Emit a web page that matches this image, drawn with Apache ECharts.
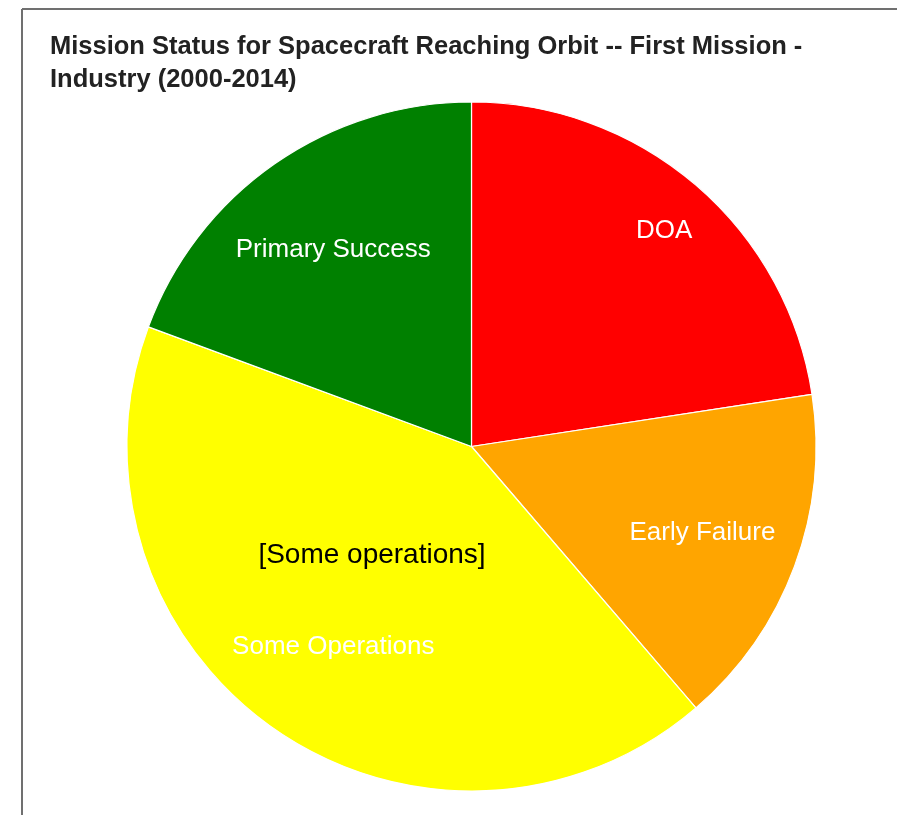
<!DOCTYPE html>
<html>
<head>
<meta charset="utf-8">
<script src="https://cdn.jsdelivr.net/npm/echarts@6/dist/echarts.min.js"></script>
<style>
html,body{margin:0;padding:0;background:#fff;}
#chart{width:897px;height:815px;}
</style>
</head>
<body>
<div id="chart"></div>
<script>
const titleLines = ['Mission Status for Spacecraft Reaching Orbit -- First Mission -', 'Industry (2000-2014)'];
const categories = ['DOA', 'Early Failure', 'Some Operations', 'Primary Success'];
const counts = [7, 5, 13, 6];
const sliceColors = ['#ff0000', '#ffa500', '#ffff00', '#008000'];
const annotationText = '[Some operations]';

const FONT = '"Liberation Sans", Arial, sans-serif';
const data = categories.map((c, i) => ({ name: c, value: counts[i], itemStyle: { color: sliceColors[i] } }));
const labelData = categories.map((c, i) => ({ name: c, value: counts[i] }));
const labelShift = [[35, -32], [4, 2], [0, 2], [0, 2]];

const chart = echarts.init(document.getElementById('chart'));
chart.setOption({
  animation: false,
  backgroundColor: '#fff',
  title: {
    text: titleLines.join('\n'),
    left: 45,
    top: 25,
    textStyle: { fontFamily: FONT, fontWeight: 'bold', fontSize: 25.5, lineHeight: 33, color: '#222' }
  },
  graphic: [
    { type: 'line', shape: { x1: 22, y1: 9, x2: 897, y2: 9 }, style: { stroke: '#707070', lineWidth: 2 }, silent: true },
    { type: 'line', shape: { x1: 22, y1: 9, x2: 22, y2: 815 }, style: { stroke: '#707070', lineWidth: 2 }, silent: true },
    { type: 'text', x: 372, y: 555, z: 100, silent: true,
      style: { text: annotationText, fill: '#000', font: '28px ' + FONT, textAlign: 'center', textVerticalAlign: 'middle' } }
  ],
  series: [
    {
      type: 'pie',
      center: [471.5, 446.5],
      radius: [0, 344.5],
      startAngle: 90,
      clockwise: true,
      silent: true,
      label: { show: false },
      labelLine: { show: false },
      itemStyle: { borderColor: '#fff', borderWidth: 1.2 },
      emphasis: { disabled: true },
      data: data
    },
    {
      type: 'pie',
      center: [471.5, 446.5],
      radius: [133, 345],
      startAngle: 90,
      clockwise: true,
      silent: true,
      z: 5,
      itemStyle: { color: 'rgba(0,0,0,0)', borderWidth: 0 },
      label: { show: true, position: 'inside', color: '#fff', fontFamily: FONT, fontSize: 26 },
      labelLine: { show: false },
      labelLayout: function (p) { const s = labelShift[p.dataIndex]; return { dx: s[0], dy: s[1] }; },
      emphasis: { disabled: true },
      data: labelData
    }
  ]
});
</script>
</body>
</html>
